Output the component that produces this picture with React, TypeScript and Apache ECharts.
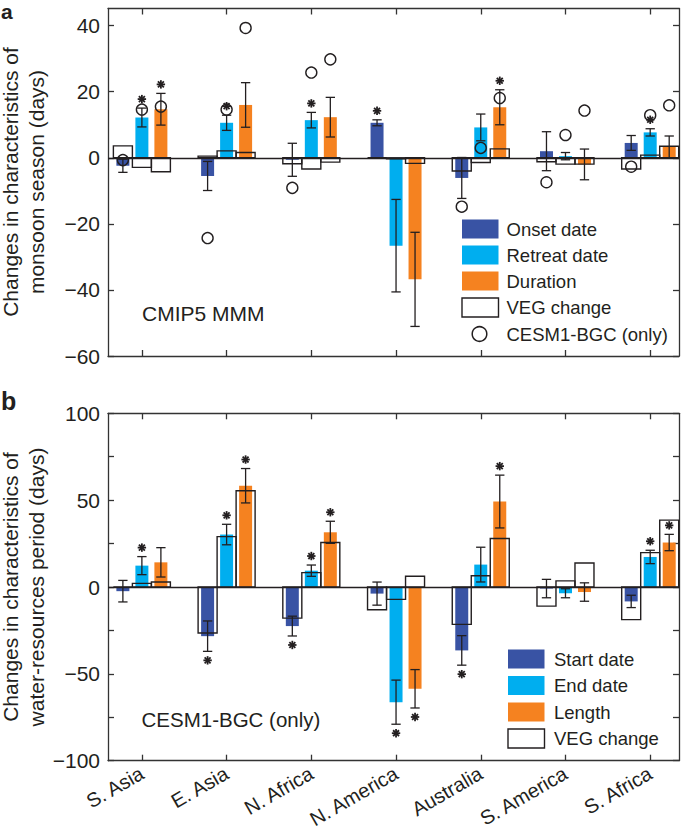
import React, { useEffect, useRef } from 'react';
import * as echarts from 'echarts';

// ---------------- data ----------------
const regions = ['S. Asia', 'E. Asia', 'N. Africa', 'N. America', 'Australia', 'S. America', 'S. Africa'];

// Panel a: CMIP5 MMM monsoon season
const onsetA = [-2.4, -5.5, -0.6, 10.6, -6.1, 2.0, 4.5];
const onsetErrA = [2.0, 4.4, 5.0, 0.9, 6.2, 5.9, 2.25];
const onsetSigA = [0, 0, 0, 1, 0, 0, 0];
const onsetVegA = [3.6, 0.5, -1.8, 0, -4.0, -1.2, -3.4];
const onsetCesmA = [-0.7, -24.3, -9.1, null, -14.8, -7.4, -2.7];

const retreatA = [12.2, 10.6, 11.4, -26.6, 9.2, 0.5, 7.7];
const retreatErrA = [2.85, 2.3, 2.35, 14.0, 4.05, 1.1, 1.1];
const retreatSigA = [1, 1, 1, 0, 0, 0, 1];
const retreatVegA = [-2.9, 2.1, -3.4, -0.3, -1.4, -1.9, 0.8];
const retreatCesmA = [14.6, 14.6, 25.8, null, 3.0, 6.9, 12.9];

const durationA = [14.7, 16.0, 12.3, -36.8, 15.3, -2.0, 3.3];
const durationErrA = [4.8, 6.75, 6.0, 14.25, 5.3, 4.65, 3.3];
const durationSigA = [1, 0, 0, 0, 1, 0, 0];
const durationVegA = [-4.2, 1.6, -1.3, -1.7, 2.7, -1.9, 3.5];
const durationCesmA = [15.5, 39.3, 29.8, null, 18.1, 14.3, 15.9];

// Panel b: CESM1-BGC water-resources period
const startB = [-2.4, -28.3, -22.5, -3.8, -36.5, -0.9, -8.3];
const startErrB = [6.2, 8.75, 5.7, 6.65, 8.5, 5.3, 3.55];
const startSigB = [0, 1, 1, 0, 1, 0, 0];
const startVegB = [0, -26.5, -17.9, -13.1, -21.5, -11.0, -18.8];

const endB = [12.3, 30.2, 9.4, -66.3, 12.9, -3.6, 17.3];
const endErrB = [5.2, 5.9, 3.25, 12.7, 10.0, 2.6, 3.85];
const endSigB = [1, 1, 1, 1, 0, 0, 1];
const endVegB = [2.1, 29.0, 8.3, -7.1, 6.5, 3.5, 19.8];

const lengthB = [14.2, 58.3, 31.5, -58.6, 49.2, -2.9, 25.6];
const lengthErrB = [8.45, 9.9, 6.35, 11.05, 15.2, 5.3, 4.7];
const lengthSigB = [0, 1, 1, 1, 1, 0, 1];
const lengthVegB = [2.9, 55.4, 25.6, 6.2, 27.9, 13.8, 38.5];

const yTicksA = [-60, -40, -20, 0, 20, 40];
const yTicksB = [-100, -75, -50, -25, 0, 25, 50, 75, 100];
const yLabelsB = [-100, -50, 0, 50, 100];
const catTicks = [0, 1, 2, 3, 4, 5, 6];

// ---------------- style ----------------
const FONT = "'Liberation Sans', Arial, Helvetica, sans-serif";
const INK = '#231F20';
const AXIS = '#333333';
const C_DARK = '#3953A4';
const C_CYAN = '#00AEEF';
const C_ORANGE = '#F58220';

const STEP = 0.2243;
const BAR_W = 0.1534;
const BOX_W = 0.2243;
const CAP_W = 0.11;
const STAR_GAP = 9;

const fmt = (v: number) => String(v).replace('-', '\u2212');

function barRender(offset: number, color: string) {
  return (_params: any, api: any) => {
    const i = api.value(0) as number;
    const v = api.value(1) as number;
    const e = api.value(2) as number;
    const sig = api.value(3) as number;
    const xc = i + offset * STEP;
    const p0 = api.coord([xc, 0]);
    const cx = p0[0];
    const y0 = p0[1];
    const yv = api.coord([xc, v])[1];
    const yHi = api.coord([xc, v + e])[1];
    const yLo = api.coord([xc, v - e])[1];
    const bw = api.size([BAR_W, 0])[0];
    const cw = api.size([CAP_W, 0])[0];
    const ls = { stroke: INK, lineWidth: 1.3 };
    const children: any[] = [
      { type: 'rect', shape: { x: cx - bw / 2, y: Math.min(y0, yv), width: bw, height: Math.abs(yv - y0) }, style: { fill: color } },
      { type: 'line', shape: { x1: cx, y1: yHi, x2: cx, y2: yLo }, style: ls },
      { type: 'line', shape: { x1: cx - cw / 2, y1: yHi, x2: cx + cw / 2, y2: yHi }, style: ls },
      { type: 'line', shape: { x1: cx - cw / 2, y1: yLo, x2: cx + cw / 2, y2: yLo }, style: ls },
    ];
    if (sig) {
      const sy = v >= 0 ? yHi - STAR_GAP : yLo + STAR_GAP;
      const r = 4.2;
      for (let k = 0; k < 4; k++) {
        const a = (k * Math.PI) / 4;
        children.push({
          type: 'line',
          shape: { x1: cx - r * Math.cos(a), y1: sy - r * Math.sin(a), x2: cx + r * Math.cos(a), y2: sy + r * Math.sin(a) },
          style: { stroke: INK, lineWidth: 1.8 },
        });
      }
    }
    return { type: 'group', children };
  };
}

function vegRender(_params: any, api: any) {
  const i = api.value(0) as number;
  const v = api.value(1) as number;
  const off = api.value(2) as number;
  const xc = i + off * STEP;
  const p0 = api.coord([xc, 0]);
  const yv = api.coord([xc, v])[1];
  const bw = api.size([BOX_W, 0])[0];
  return {
    type: 'rect',
    shape: { x: p0[0] - bw / 2, y: Math.min(p0[1], yv), width: bw, height: Math.abs(yv - p0[1]) },
    style: { fill: 'none', stroke: INK, lineWidth: 1.4 },
  };
}

function barSeries(grid: number, offset: number, color: string, vals: number[], errs: number[], sigs: number[]) {
  return {
    type: 'custom',
    xAxisIndex: grid * 2,
    yAxisIndex: grid * 2,
    renderItem: barRender(offset, color),
    dimensions: ['x', 'y', 'e', 's'],
    encode: { x: 0, y: 1 },
    data: vals.map((v, i) => [i, v, errs[i], sigs[i]]),
    silent: true,
    clip: false,
    z: 2,
  };
}

function vegSeries(grid: number, lists: number[][]) {
  const data: number[][] = [];
  lists.forEach((arr, k) => arr.forEach((v, i) => data.push([i, v, k - 1])));
  return {
    type: 'custom',
    xAxisIndex: grid * 2,
    yAxisIndex: grid * 2,
    renderItem: vegRender,
    dimensions: ['x', 'y', 'o'],
    encode: { x: 0, y: 1 },
    data,
    silent: true,
    clip: false,
    z: 3,
    markLine: {
      silent: true,
      symbol: 'none',
      label: { show: false },
      lineStyle: { color: INK, width: 1.3, type: 'solid' },
      data: [{ yAxis: 0 }],
      z: 4,
    },
  };
}

function cesmSeries(lists: (number | null)[][]) {
  const data: number[][] = [];
  lists.forEach((arr, k) =>
    arr.forEach((v, i) => {
      if (v !== null) data.push([i + (k - 1) * STEP, v]);
    })
  );
  return {
    type: 'scatter',
    xAxisIndex: 0,
    yAxisIndex: 0,
    symbol: 'circle',
    symbolSize: 11,
    itemStyle: { color: 'rgba(0,0,0,0)', borderColor: INK, borderWidth: 1.4, opacity: 1 },
    data,
    silent: true,
    z: 5,
  };
}

function axesFor(grid: number, yMin: number, yMax: number, yTicks: number[], yLabels: number[], showX: boolean) {
  const axisLine = { show: true, onZero: false, lineStyle: { color: AXIS, width: 1.3 } };
  const tick = (vals: number[]) => ({ show: true, inside: true, length: 6, lineStyle: { color: AXIS, width: 1.3 }, customValues: vals });
  const xAxes = [
    {
      type: 'value', gridIndex: grid, min: -0.4, max: 6.34, position: 'bottom',
      axisLine, axisTick: tick(catTicks), splitLine: { show: false },
      axisLabel: showX
        ? {
            show: true, customValues: catTicks, rotate: 30, margin: 11,
            color: INK, fontFamily: FONT, fontSize: 20,
            formatter: (v: number) => regions[Math.round(v)] ?? '',
          }
        : { show: false },
    },
    {
      type: 'value', gridIndex: grid, min: -0.4, max: 6.34, position: 'top',
      axisLine, axisTick: tick(catTicks), splitLine: { show: false }, axisLabel: { show: false },
    },
  ];
  const yAxes = [
    {
      type: 'value', gridIndex: grid, min: yMin, max: yMax, position: 'left',
      axisLine, axisTick: tick(yTicks), splitLine: { show: false },
      axisLabel: { show: true, customValues: yLabels, margin: 8, color: INK, fontFamily: FONT, fontSize: 21, formatter: (v: number) => fmt(v) },
    },
    {
      type: 'value', gridIndex: grid, min: yMin, max: yMax, position: 'right',
      axisLine, axisTick: tick(yTicks), splitLine: { show: false }, axisLabel: { show: false },
    },
  ];
  return { xAxes, yAxes };
}

function legendRows(x: number, textX: number, ys: number[], items: { label: string; fill: string | null }[]) {
  const out: any[] = [];
  items.forEach((it, k) => {
    out.push({
      type: 'rect',
      shape: { x, y: ys[k] - 9.5, width: 36.5, height: 19 },
      style: it.fill ? { fill: it.fill } : { fill: '#fff', stroke: INK, lineWidth: 1.4 },
      silent: true,
    });
    out.push({
      type: 'text', x: textX, y: ys[k],
      style: { text: it.label, fill: INK, font: `18.5px ${FONT}`, align: 'left', verticalAlign: 'middle' },
      silent: true,
    });
  });
  return out;
}

export default function App() {
  const ref = useRef<HTMLDivElement>(null);
  useEffect(() => {
    if (!ref.current) return;
    const chart = echarts.init(ref.current, null, { renderer: 'svg' });
    const a = axesFor(0, -60, 45.2, yTicksA, yTicksA, false);
    const b = axesFor(1, -100, 100, yTicksB, yLabelsB, true);

    const graphic: any[] = [
      { type: 'text', x: 1, y: 11.7, style: { text: 'a', fill: INK, font: `bold 21px ${FONT}`, align: 'left', verticalAlign: 'middle' }, silent: true },
      { type: 'text', x: 1, y: 401, style: { text: 'b', fill: INK, font: `bold 25px ${FONT}`, align: 'left', verticalAlign: 'middle' }, silent: true },
      {
        type: 'text', x: 23, y: 182, rotation: Math.PI / 2,
        style: { text: 'Changes in characteristics of\nmonsoon season (days)', fill: INK, font: `21px ${FONT}`, lineHeight: 26, align: 'center', verticalAlign: 'middle' },
        silent: true,
      },
      {
        type: 'text', x: 23, y: 587, rotation: Math.PI / 2,
        style: { text: 'Changes in characteristics of\nwater-resources period (days)', fill: INK, font: `21px ${FONT}`, lineHeight: 26, align: 'center', verticalAlign: 'middle' },
        silent: true,
      },
      { type: 'text', x: 142, y: 313.5, style: { text: 'CMIP5 MMM', fill: INK, font: `21px ${FONT}`, align: 'left', verticalAlign: 'middle' }, silent: true },
      { type: 'text', x: 141.5, y: 719, style: { text: 'CESM1-BGC (only)', fill: INK, font: `20.5px ${FONT}`, align: 'left', verticalAlign: 'middle' }, silent: true },
      ...legendRows(462, 506.5, [229, 255, 281, 307.5], [
        { label: 'Onset date', fill: C_DARK },
        { label: 'Retreat date', fill: C_CYAN },
        { label: 'Duration', fill: C_ORANGE },
        { label: 'VEG change', fill: null },
      ]),
      { type: 'circle', shape: { cx: 479.5, cy: 334, r: 7.3 }, style: { fill: 'none', stroke: INK, lineWidth: 1.5 }, silent: true },
      { type: 'text', x: 506.5, y: 334, style: { text: 'CESM1-BGC (only)', fill: INK, font: `18.5px ${FONT}`, align: 'left', verticalAlign: 'middle' }, silent: true },
      ...legendRows(508, 554, [659, 685.5, 712, 738.5], [
        { label: 'Start date', fill: C_DARK },
        { label: 'End date', fill: C_CYAN },
        { label: 'Length', fill: C_ORANGE },
        { label: 'VEG change', fill: null },
      ]),
    ];

    chart.setOption({
      animation: false,
      backgroundColor: '#ffffff',
      textStyle: { fontFamily: FONT },
      grid: [
        { left: 108, top: 8.5, width: 571, height: 347.5, containLabel: false, outerBoundsMode: 'none' },
        { left: 108, top: 413.3, width: 571, height: 347.4, containLabel: false, outerBoundsMode: 'none' },
      ],
      xAxis: [...a.xAxes, ...b.xAxes],
      yAxis: [...a.yAxes, ...b.yAxes],
      series: [
        barSeries(0, -1, C_DARK, onsetA, onsetErrA, onsetSigA),
        barSeries(0, 0, C_CYAN, retreatA, retreatErrA, retreatSigA),
        barSeries(0, 1, C_ORANGE, durationA, durationErrA, durationSigA),
        vegSeries(0, [onsetVegA, retreatVegA, durationVegA]),
        cesmSeries([onsetCesmA, retreatCesmA, durationCesmA]),
        barSeries(1, -1, C_DARK, startB, startErrB, startSigB),
        barSeries(1, 0, C_CYAN, endB, endErrB, endSigB),
        barSeries(1, 1, C_ORANGE, lengthB, lengthErrB, lengthSigB),
        vegSeries(1, [startVegB, endVegB, lengthVegB]),
      ],
      graphic,
    });
    return () => chart.dispose();
  }, []);
  return <div ref={ref} style={{ position: 'absolute', left: 0, top: 0, width: 685, height: 832 }} />;
}
